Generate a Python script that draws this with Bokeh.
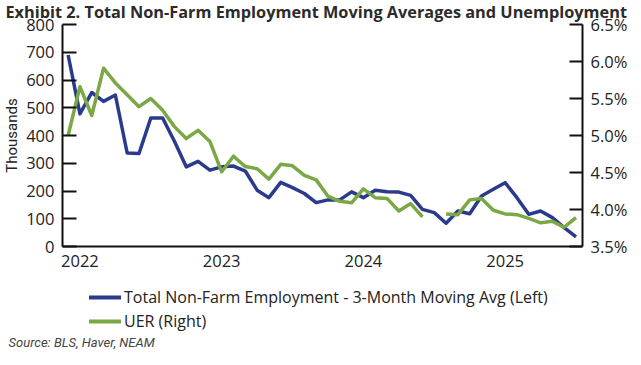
import numpy as np
from bokeh.plotting import figure
from bokeh.layouts import column
from bokeh.models import (Range1d, LinearAxis, FixedTicker, PrintfTickFormatter,
                          Legend, LegendItem, Title)
from bokeh.embed import file_html
from bokeh.resources import INLINE

# ---------------- data ----------------
period_index = list(range(44))          # monthly periods, index 1 = Jan 2022
year_labels = ["2022", "2023", "2024", "2025"]
year_label_pos = [1, 13, 25, 37]

nfp_3mma = [690, 478, 555, 523, 546, 337, 335, 463, 463, 379, 287, 307, 275, 287,
            290, 272, 203, 176, 231, 212, 191, 158, 168, 168, 197, 176, 203, 197,
            196, 184, 134, 122, 84, 128, 118, 182, 206, 230, 176, 116, 128, 104,
            68, 35]
uer = [5.00, 5.66, 5.27, 5.91, 5.71, 5.55, 5.39, 5.50, 5.34, 5.12, 4.96, 5.07,
       4.92, 4.51, 4.72, 4.58, 4.55, 4.41, 4.61, 4.59, 4.46, 4.40, 4.18, 4.11,
       4.09, 4.28, 4.16, 4.15, 3.98, 4.08, 3.90, None, 3.94, 3.93, 4.13, 4.15,
       3.99, 3.94, 3.93, 3.88, 3.82, 3.84, 3.76, 3.89]
left_ticks = [0, 100, 200, 300, 400, 500, 600, 700, 800]
right_ticks = [3.5, 4.0, 4.5, 5.0, 5.5, 6.0, 6.5]

title_text = "Exhibit 2. Total Non-Farm Employment Moving Averages and Unemployment"
source_text = "Source: BLS, Haver, NEAM"
left_label = "Thousands"
series_names = ["Total Non-Farm Employment - 3-Month Moving Avg (Left)", "UER (Right)"]

# ---------------- styling ----------------
FONT = "Open Sans"
TXT = "#222222"
AX = "#111111"
BLUE = "#2a3a8c"
GREEN = "#7aa844"
W = 630
TICK_FS = "16.5px"

uer_arr = np.array([np.nan if v is None else v for v in uer], dtype=float)

p = figure(width=W, height=271, output_backend="svg", toolbar_location=None,
           title=None,
           x_range=Range1d(-0.476, 43.55), y_range=Range1d(0, 800),
           min_border_left=57, min_border_right=46, min_border_top=23,
           min_border_bottom=25, x_axis_location=None, y_axis_location=None)
p.extra_y_ranges = {"uer": Range1d(3.5, 6.5)}
p.grid.visible = False
p.outline_line_color = None
p.background_fill_color = "white"
p.border_fill_color = "white"

# title (above)
p.add_layout(Title(text=title_text, align="left", offset=-57, vertical_align="top",
                   standoff=0, text_font=FONT, text_font_style="bold",
                   text_font_size="16.3px", text_color="#2b2b2b"), "above")

# axes
xa = LinearAxis(ticker=FixedTicker(ticks=year_label_pos),
                major_label_overrides={pos: lab for pos, lab in zip(year_label_pos, year_labels)})
xa.major_tick_line_color = None
xa.minor_tick_line_color = None
xa.axis_line_color = AX
xa.axis_line_width = 2
xa.major_label_standoff = 2
xa.major_label_text_font = FONT
xa.major_label_text_font_size = TICK_FS
xa.major_label_text_color = TXT
p.add_layout(xa, "below")

ya = LinearAxis(ticker=FixedTicker(ticks=left_ticks))
ya.major_tick_in = 14
ya.major_tick_out = 0
ya.major_tick_line_width = 2
ya.major_tick_line_color = AX
ya.minor_tick_line_color = None
ya.axis_line_color = AX
ya.axis_line_width = 2
ya.major_label_standoff = 8
ya.major_label_text_font = FONT
ya.major_label_text_font_size = TICK_FS
ya.major_label_text_color = TXT
ya.axis_label = left_label
ya.axis_label_standoff = 2
ya.axis_label_text_font = "Roboto"
ya.axis_label_text_font_style = "normal"
ya.axis_label_text_font_size = "15px"
ya.axis_label_text_color = TXT
p.add_layout(ya, "left")

ra = LinearAxis(y_range_name="uer", ticker=FixedTicker(ticks=right_ticks),
                formatter=PrintfTickFormatter(format="%.1f%%"))
ra.major_tick_in = 13
ra.major_tick_out = 0
ra.major_tick_line_width = 2
ra.major_tick_line_color = AX
ra.minor_tick_line_color = None
ra.axis_line_color = AX
ra.axis_line_width = 2
ra.major_label_standoff = 8
ra.major_label_text_font = FONT
ra.major_label_text_font_size = TICK_FS
ra.major_label_text_color = TXT
p.add_layout(ra, "right")

# lines
p.line(period_index, nfp_3mma, line_color=BLUE, line_width=3.5, line_join="round")
p.line(period_index, uer_arr, y_range_name="uer", line_color=GREEN,
       line_width=3.5, line_join="round")

# ---------------- legend + source panel ----------------
H2 = 78
q = figure(width=W, height=H2, output_backend="svg", toolbar_location=None,
           title=None, x_range=Range1d(0, 1), y_range=Range1d(0, 1),
           min_border=0, min_border_left=0, min_border_right=0,
           min_border_top=0, min_border_bottom=0,
           x_axis_location=None, y_axis_location=None)
q.grid.visible = False
q.outline_line_color = None
q.background_fill_color = "white"
q.border_fill_color = "white"

# same series, drawn here only to provide the legend samples (outside this panel's view)
k_blue = q.line(period_index, nfp_3mma, line_color=BLUE, line_width=4, line_cap="round")
k_green = q.line(period_index, uer_arr, line_color=GREEN, line_width=4, line_cap="round")

legend = Legend(items=[LegendItem(label=series_names[0], renderers=[k_blue]),
                       LegendItem(label=series_names[1], renderers=[k_green])],
                location=(27, 0), orientation="vertical", glyph_width=32,
                glyph_height=22, label_height=22, spacing=2, padding=0, margin=0,
                label_standoff=3, border_line_alpha=0, background_fill_alpha=0,
                label_text_font=FONT, label_text_font_size="16px",
                label_text_color=TXT)
q.add_layout(legend, "center")

q.add_layout(Title(text=source_text, align="left", offset=-54, vertical_align="bottom",
                   standoff=0, text_font="Roboto", text_font_style="italic",
                   text_font_size="13px", text_color="#444444"), "below")

layout = column(p, q, spacing=0)
open("out.html", "w").write(file_html(layout, INLINE))
